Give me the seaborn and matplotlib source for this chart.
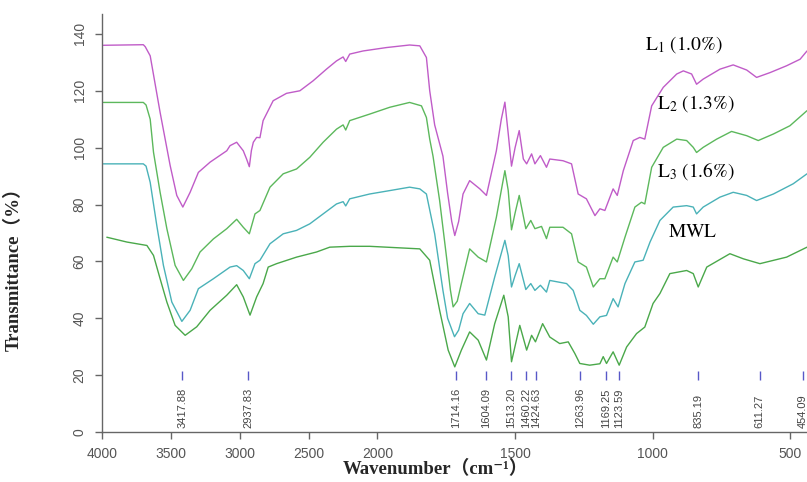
import numpy as np
import pandas as pd
import matplotlib
matplotlib.use("Agg")
import matplotlib.pyplot as plt
from matplotlib.ticker import FixedLocator
import seaborn as sns

# ---------------- data ----------------
l1_wn = [3990, 3700, 3686, 3650, 3578, 3505, 3457, 3413, 3360, 3300, 3215, 3094, 3070, 3022,
         2974, 2950, 2930, 2915, 2901, 2877, 2853, 2830, 2757, 2660, 2563, 2467, 2370, 2297,
         2249, 2230, 2201, 2104, 1967, 1883, 1846, 1822, 1810, 1792, 1762, 1745, 1730, 1719,
         1705, 1689, 1665, 1628, 1604, 1568, 1550, 1537, 1525, 1513, 1500, 1485, 1470, 1458,
         1440, 1428, 1408, 1386, 1374, 1326, 1295, 1271, 1241, 1210, 1192, 1174, 1144, 1129,
         1107, 1071, 1047, 1029, 1004, 962, 913, 889, 859, 841, 817, 756, 708, 659, 623, 574,
         514, 465, 440]
l1_val = [136.0, 136.2, 135.5, 132.3, 112.4, 93.7, 83.2, 79.1, 84.3, 91.3, 94.9, 98.9, 100.7, 101.9,
          98.9, 96.0, 93.3, 99.0, 101.9, 103.6, 103.5, 109.5, 116.5, 119.1, 120.0, 123.5, 127.6, 130.5,
          131.9, 130.3, 132.9, 134.0, 135.2, 136.1, 135.8, 131.7, 120.0, 108.0, 97.0, 84.0, 74.0, 69.1,
          74.0, 83.7, 88.4, 85.5, 83.2, 98.9, 110.0, 116.0, 105.0, 93.5, 100.0, 106.0, 96.0, 94.3,
          97.8, 94.3, 97.2, 93.1, 96.0, 95.4, 94.3, 83.7, 82.0, 76.1, 78.5, 77.9, 85.5, 83.2,
          91.9, 102.5, 103.6, 103.0, 114.7, 121.2, 125.9, 127.0, 125.9, 122.3, 124.1, 127.6, 129.1, 127.3, 124.7, 126.4,
          128.8, 131.1, 134.0]

l2_wn = [3990, 3700, 3680, 3650, 3626, 3578, 3529, 3469, 3409, 3348, 3288, 3191, 3094, 3022,
         2974, 2930, 2889, 2853, 2780, 2684, 2587, 2491, 2394, 2297, 2249, 2230, 2201, 2056,
         1955, 1883, 1840, 1822, 1810, 1798, 1774, 1749, 1735, 1725, 1710, 1695, 1665, 1634,
         1604, 1568, 1537, 1525, 1513, 1500, 1485, 1461, 1443, 1428, 1404, 1386, 1374, 1326,
         1295, 1271, 1241, 1216, 1192, 1174, 1144, 1129, 1101, 1065, 1041, 1029, 1004, 962,
         913, 877, 853, 841, 817, 768, 714, 659, 617, 562, 502, 440]
l2_val = [115.9, 115.9, 115.0, 110.0, 98.4, 84.3, 71.5, 58.6, 53.3, 57.4, 63.3, 67.9, 71.5, 74.8,
          72.0, 69.7, 76.7, 77.9, 86.1, 90.8, 92.5, 96.6, 101.9, 106.5, 108.0, 106.2, 109.5, 111.8,
          114.2, 115.9, 114.7, 110.6, 103.0, 97.0, 81.4, 61.5, 50.0, 44.0, 46.0, 52.2, 64.4, 61.5,
          59.8, 75.5, 91.9, 85.0, 71.1, 77.0, 83.2, 71.5, 74.4, 71.5, 72.3, 68.0, 72.0, 72.0,
          69.7, 59.8, 58.0, 51.0, 53.9, 53.9, 61.5, 59.8, 68.5, 79.1, 80.8, 80.2, 93.1, 100.1,
          103.0, 102.5, 100.1, 98.3, 100.1, 103.0, 105.7, 104.2, 102.5, 104.8, 107.7, 113.0]

l3_wn = [3990, 3700, 3680, 3650, 3602, 3554, 3493, 3420, 3360, 3300, 3191, 3070, 3022, 2974,
         2930, 2889, 2853, 2780, 2684, 2587, 2491, 2394, 2297, 2249, 2230, 2201, 2056, 1955,
         1883, 1846, 1822, 1792, 1762, 1745, 1720, 1705, 1689, 1665, 1634, 1610, 1574, 1537,
         1525, 1513, 1500, 1485, 1461, 1443, 1428, 1408, 1386, 1374, 1313, 1289, 1265, 1241,
         1216, 1192, 1168, 1144, 1126, 1101, 1065, 1035, 1010, 974, 926, 877, 853, 841, 817,
         756, 708, 659, 623, 562, 490, 440]
l3_val = [94.3, 94.3, 93.5, 87.8, 72.6, 58.6, 45.7, 38.9, 42.8, 50.4, 53.9, 58.0, 58.5, 56.8,
          53.9, 59.2, 60.4, 66.2, 69.7, 70.9, 73.2, 76.7, 80.2, 81.0, 79.5, 82.0, 83.7, 84.9,
          86.1, 85.5, 83.7, 69.7, 49.8, 40.0, 33.5, 35.8, 41.6, 45.2, 41.6, 41.1, 54.5, 67.4,
          62.0, 51.0, 55.0, 59.2, 50.1, 52.2, 49.8, 51.6, 49.2, 53.3, 52.2, 49.8, 42.8, 41.0,
          37.9, 40.5, 41.0, 46.9, 44.0, 52.2, 59.8, 60.4, 66.8, 74.4, 79.1, 79.6, 79.1, 76.7, 79.1,
          82.6, 84.3, 83.2, 81.4, 83.7, 87.3, 90.8]

mwl_wn = [3965, 3819, 3674, 3626, 3578, 3529, 3469, 3396, 3312, 3215, 3094, 3022, 2974, 2925,
          2877, 2830, 2793, 2732, 2587, 2442, 2346, 2201, 2056, 1846, 1810, 1774, 1743, 1719,
          1695, 1665, 1634, 1604, 1574, 1541, 1525, 1513, 1483, 1458, 1440, 1426, 1400, 1374,
          1338, 1307, 1283, 1265, 1229, 1192, 1180, 1168, 1144, 1122, 1095, 1059, 1029, 999,
          974, 938, 877, 853, 835, 804, 720, 671, 611, 514, 440]
mwl_val = [68.5, 66.8, 65.6, 62.1, 53.9, 45.7, 37.5, 34.0, 37.0, 42.8, 48.1, 51.8, 47.5, 41.1,
           47.5, 52.2, 58.0, 59.2, 61.5, 63.3, 65.0, 65.3, 65.3, 64.4, 60.4, 42.8, 28.8, 22.9,
           28.8, 35.2, 32.3, 25.3, 38.1, 48.1, 40.5, 24.7, 37.5, 28.8, 34.0, 31.7, 38.1, 33.4,
           31.1, 31.7, 27.6, 24.1, 23.5, 24.0, 26.5, 24.1, 28.2, 23.5, 29.9, 34.6, 36.9, 45.2,
           48.7, 55.7, 56.8, 55.7, 51.0, 58.0, 62.7, 60.9, 59.2, 61.5, 65.0]

series_names = ["L1", "L2", "L3", "MWL"]
series_colors = ["#c05cc8", "#5cb85c", "#4ab2b8", "#4aa84a"]

peak_wn = [3417.88, 2937.83, 1714.16, 1604.09, 1513.20, 1460.22, 1424.63, 1263.96,
           1169.25, 1123.59, 835.19, 611.27, 454.09]
peak_labels = ["3417.88", "2937.83", "1714.16", "1604.09", "1513.20", "1460.22", "1424.63",
               "1263.96", "1169.25", "1123.59", "835.19", "611.27", "454.09"]

x_ticks = [4000, 3500, 3000, 2500, 2000, 1500, 1000, 500]
y_ticks = [0, 20, 40, 60, 80, 100, 120, 140]

curve_labels = [r"$\mathrm{L_1\ (1.0\%)}$", r"$\mathrm{L_2\ (1.3\%)}$",
                r"$\mathrm{L_3\ (1.6\%)}$", r"$\mathrm{MWL}$"]
label_wn = [1029, 985, 985, 945]
label_val = [136.1, 115.4, 91.9, 70.5]

# ---------------- build long-form frame ----------------
frames = []
for name, w, v in zip(series_names, [l1_wn, l2_wn, l3_wn, mwl_wn],
                      [l1_val, l2_val, l3_val, mwl_val]):
    frames.append(pd.DataFrame({"wn": w, "T": v, "series": name}))
df = pd.concat(frames, ignore_index=True)

# ---------------- plotting ----------------
sns.set_style("ticks")
plt.rcParams["mathtext.fontset"] = "stix"

fig = plt.figure(figsize=(8.07, 4.82), dpi=100)
ax = fig.add_axes([102 / 807, 50 / 482, (807 - 102) / 807, 418 / 482])


def fwd(x):
    x = np.asarray(x, dtype=float)
    return np.where(x > 2000, 2000 + (x - 2000) / 2.0, x)


def inv(u):
    u = np.asarray(u, dtype=float)
    return np.where(u > 2000, 2000 + (u - 2000) * 2.0, u)


ax.set_xscale("function", functions=(fwd, inv))

sns.lineplot(data=df, x="wn", y="T", hue="series", palette=dict(zip(series_names, series_colors)),
             estimator=None, sort=True, legend=False, linewidth=1.0, ax=ax)

ax.set_xlim(4000, 440)
ax.set_ylim(0, 147)
ax.xaxis.set_major_locator(FixedLocator(x_ticks))
ax.yaxis.set_major_locator(FixedLocator(y_ticks))
ax.set_xticklabels([str(t) for t in x_ticks])
ax.set_yticklabels([str(t) for t in y_ticks], rotation=90, va="center")

for s in ["top", "right"]:
    ax.spines[s].set_visible(False)
for s in ["left", "bottom"]:
    ax.spines[s].set_color("#666666")
    ax.spines[s].set_linewidth(1.0)
ax.tick_params(axis="both", colors="#666666", labelcolor="#555555", length=5, width=1,
               labelsize=10)
ax.tick_params(axis="x", pad=6)
ax.tick_params(axis="y", pad=6)
for lab in ax.get_xticklabels() + ax.get_yticklabels():
    lab.set_family("Liberation Sans")

# peak markers
ax.vlines(peak_wn, 18.3, 21.3, color="#5858c8", linewidth=1.0)
for w, t in zip(peak_wn, peak_labels):
    ax.text(w, 1.3, t, rotation=90, ha="center", va="bottom", fontsize=8,
            color="#444444", family="Liberation Sans")

# curve labels
for t, w, v in zip(curve_labels, label_wn, label_val):
    ax.text(w, v, t, ha="left", va="center", fontsize=14, color="black")

# axis labels
lab_fam = ["Liberation Serif", "DejaVu Serif", "Noto Sans CJK SC"]
ax.set_xlabel("Wavenumber（cm⁻¹）", fontsize=13.5, fontweight="bold", family=lab_fam)
ax.xaxis.set_label_coords(0.473, -0.068)
ax.set_ylabel("Transmittance（%）", fontsize=13.5, fontweight="bold", family=lab_fam)
ax.yaxis.set_label_coords(-0.112, 0.40)

fig.savefig("out.png", dpi=100)
